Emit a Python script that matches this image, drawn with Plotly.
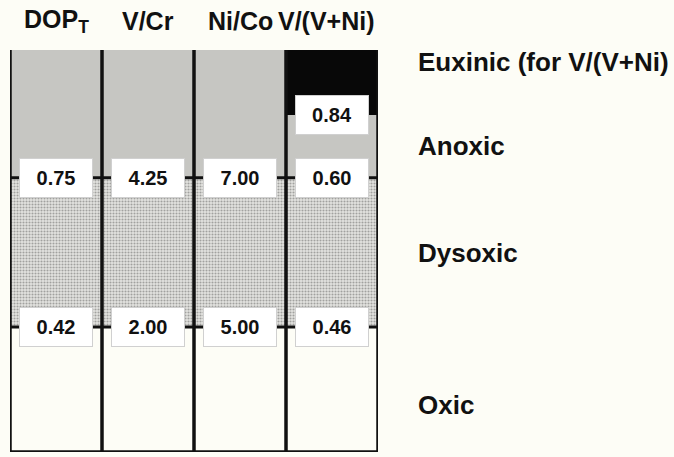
import plotly.graph_objects as go

# ---- data ----
columns = ["DOP<sub>T</sub>", "V/Cr", "Ni/Co", "V/(V+Ni)"]
lower_thresholds = ["0.42", "2.00", "5.00", "0.46"]   # oxic / dysoxic
upper_thresholds = ["0.75", "4.25", "7.00", "0.60"]   # dysoxic / anoxic
euxinic_thresholds = [None, None, None, "0.84"]       # anoxic / euxinic
zones = ["Euxinic (for V/(V+Ni)", "Anoxic", "Dysoxic", "Oxic"]

# schematic levels (fraction of column height)
LEVEL_LOW = 0.311
LEVEL_UP = 0.682
LEVEL_EUX = 0.838
TOP = 1.0
zone_label_y = [0.970, 0.761, 0.495, 0.117]

BG = "#fdfdf6"
FONT = "Liberation Sans, Arial, Helvetica, sans-serif"

n = len(columns)
xc = [i + 0.5 for i in range(n)]

fig = go.Figure()

# oxic
fig.add_trace(go.Bar(x=xc, y=[LEVEL_LOW] * n, base=[0] * n, width=1,
                     marker=dict(color=BG, line=dict(width=0)),
                     hoverinfo="skip", showlegend=False))
# dysoxic (stippled)
fig.add_trace(go.Bar(x=xc, y=[LEVEL_UP - LEVEL_LOW] * n, base=[LEVEL_LOW] * n, width=1,
                     marker=dict(color="#e0e0dc", line=dict(width=0),
                                 pattern=dict(shape=".", fgcolor="#5e5e5e",
                                              bgcolor="#e4e4e0", size=3, solidity=0.4)),
                     hoverinfo="skip", showlegend=False))
# anoxic
anox_top = [LEVEL_EUX if e is not None else TOP for e in euxinic_thresholds]
fig.add_trace(go.Bar(x=xc, y=[t - LEVEL_UP for t in anox_top], base=[LEVEL_UP] * n, width=1,
                     marker=dict(color="#c6c6c2", line=dict(width=0)),
                     hoverinfo="skip", showlegend=False))
# euxinic
ex = [xc[i] for i, e in enumerate(euxinic_thresholds) if e is not None]
fig.add_trace(go.Bar(x=ex, y=[TOP - LEVEL_EUX] * len(ex), base=[LEVEL_EUX] * len(ex), width=1,
                     marker=dict(color="#080808", line=dict(width=0)),
                     hoverinfo="skip", showlegend=False))

# boundary lines (hidden behind the value boxes except near dividers)
for lvl in (LEVEL_LOW, LEVEL_UP):
    fig.add_shape(type="line", x0=0, x1=n, y0=lvl, y1=lvl,
                  line=dict(color="#111", width=3), layer="above")
# column dividers and frame
for i in range(n + 1):
    fig.add_shape(type="line", x0=i, x1=i, y0=0, y1=TOP,
                  line=dict(color="#111", width=3.5), layer="above")
fig.add_shape(type="line", x0=0, x1=n, y0=0, y1=0,
              line=dict(color="#111", width=3.5), layer="above")

annotations = []
# value boxes
for i in range(n):
    for lvl, txt in ((LEVEL_LOW, lower_thresholds[i]), (LEVEL_UP, upper_thresholds[i]),
                     (LEVEL_EUX, euxinic_thresholds[i])):
        if txt is None:
            continue
        annotations.append(dict(x=xc[i], y=lvl, xref="x", yref="y", text="<b>%s</b>" % txt,
                                showarrow=False, width=70, height=36,
                                bgcolor="#ffffff", bordercolor="#d0d0d0", borderwidth=1,
                                font=dict(family=FONT, size=20, color="#111")))
# column headers
for i in range(n):
    a = dict(x=xc[i], y=1.072, xref="x", yref="paper", text="<b>%s</b>" % columns[i],
             showarrow=False, xanchor="center", yanchor="middle",
             font=dict(family=FONT, size=25, color="#111"))
    if i == n - 1:
        a.update(x=n, xanchor="right", xshift=-1)
    annotations.append(a)
# zone labels
for z, yy in zip(zones, zone_label_y):
    annotations.append(dict(x=1.103, y=yy, xref="paper", yref="paper", text="<b>%s</b>" % z,
                            showarrow=False, xanchor="left", yanchor="middle",
                            font=dict(family=FONT, size=26, color="#111")))

fig.update_layout(
    width=674, height=457,
    margin=dict(l=10, r=296, t=50, b=5),
    paper_bgcolor=BG, plot_bgcolor=BG,
    barmode="overlay", bargap=0,
    annotations=annotations,
    xaxis=dict(range=[0, n], showgrid=False, zeroline=False, showticklabels=False,
               showline=False, fixedrange=True),
    yaxis=dict(range=[0, TOP], showgrid=False, zeroline=False, showticklabels=False,
               showline=False, fixedrange=True),
)

fig.write_html("out.html")
